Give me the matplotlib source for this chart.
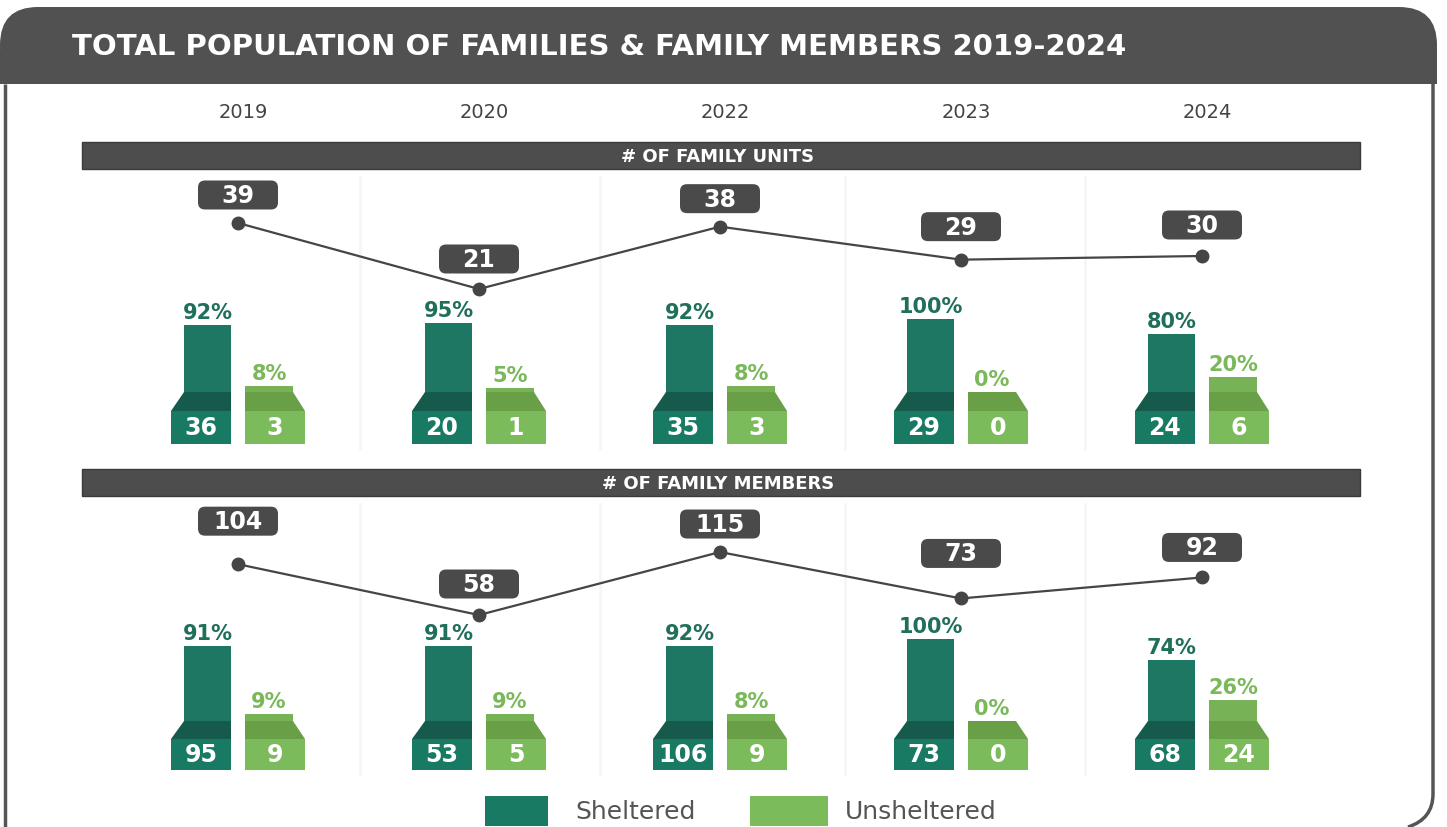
import numpy as np
import matplotlib
matplotlib.use('Agg')
import matplotlib.pyplot as plt
from matplotlib.patches import Rectangle, Polygon, FancyBboxPatch, PathPatch
from matplotlib.path import Path
from matplotlib.transforms import Affine2D, ScaledTranslation

# data
years = ['2019', '2020', '2022', '2023', '2024']

units_total = [39, 21, 38, 29, 30]
units_sheltered = [36, 20, 35, 29, 24]
units_unsheltered = [3, 1, 3, 0, 6]
units_sh_pct = [92, 95, 92, 100, 80]
units_un_pct = [8, 5, 8, 0, 20]

members_total = [104, 58, 115, 73, 92]
members_sheltered = [95, 53, 106, 73, 68]
members_unsheltered = [9, 5, 9, 0, 24]
members_sh_pct = [91, 91, 92, 100, 74]
members_un_pct = [9, 9, 8, 0, 26]

# colours
HEAD = '#515151'
SH_COL, SH_TRAP, SH_BASE = '#1d7763', '#155a4b', '#187a63'
UN_COL, UN_TRAP, UN_BASE = '#77b256', '#689f47', '#7bbb5c'
SH_TXT, UN_TXT = '#1f6f5b', '#7ab85a'

W, H = 1447, 828
fig = plt.figure(figsize=(W / 100, H / 100), dpi=100)

# background / decoration layer in pixel coordinates
ax0 = fig.add_axes([0, 0, 1, 1])
ax0.set_xlim(0, W)
ax0.set_ylim(H, 0)
ax0.axis('off')

ax0.add_patch(FancyBboxPatch((0, 8), 1437, 77, boxstyle='round,pad=0,rounding_size=38',
                             fc=HEAD, ec='none'))
ax0.add_patch(Rectangle((0, 50), 1437, 35, fc=HEAD, ec='none'))
ax0.text(72, 47, 'TOTAL POPULATION OF FAMILIES & FAMILY MEMBERS 2019-2024',
         color='white', fontsize=21, fontweight='bold', va='center', ha='left')

# card border
ax0.plot([5, 5], [85, 828], color='#555555', lw=2.5, solid_capstyle='butt')
border = Path([(1433, 85), (1433, 795), (1433, 820), (1408, 828)],
              [Path.MOVETO, Path.LINETO, Path.CURVE3, Path.CURVE3])
ax0.add_patch(PathPatch(border, fc='none', ec='#555555', lw=2.5))

# section headers
for y0, label in [(143, '# OF FAMILY UNITS'), (470, '# OF FAMILY MEMBERS')]:
    ax0.add_patch(Rectangle((82, y0), 1278, 27, fc='#4d4d4d', ec='#3a3a3a', lw=1))
    ax0.text(718, y0 + 14, label, color='white', fontsize=13, fontweight='bold',
             ha='center', va='center')

# faint separators
for xs in [360, 600, 845, 1085]:
    for ya, yb in [(178, 450), (505, 775)]:
        ax0.plot([xs, xs], [ya, yb], color='#f6f6f6', lw=2)

# legend
ax0.add_patch(Rectangle((485, 797), 63, 30, fc=SH_BASE, ec='none'))
ax0.text(575, 812, 'Sheltered', color='#555555', fontsize=18, va='center')
ax0.add_patch(Rectangle((750, 797), 78, 30, fc=UN_BASE, ec='none'))
ax0.text(845, 812, 'Unsheltered', color='#555555', fontsize=18, va='center')

# category placement: index i -> pixel X0 + STEP * i
X0, STEP = 238, 241
xlim = (-X0 / STEP, (W - X0) / STEP)
idx = np.arange(len(years))


def pix_box(ax, x, y, dy, w=80, h=29):
    # rounded label box of fixed pixel size, anchored on a data point
    tr = Affine2D() + ScaledTranslation(x, y, ax.transData)
    return FancyBboxPatch((-w / 2, dy - h / 2), w, h,
                          boxstyle='round,pad=0,rounding_size=7',
                          fc='#4a4a4a', ec='none', transform=tr, zorder=5)


def panel(totals, sh, un, sh_pct, un_pct, line_a, line_k, bar_z, bar_s,
          trap_h, base_h, box_dy, name):
    # line layer: value v -> pixel-from-top line_a - line_k * v
    axl = fig.add_axes([0, 0, 1, 1], label='line' + name)
    axl.set_xlim(*xlim)
    axl.set_ylim((line_a - H) / line_k, line_a / line_k)
    axl.axis('off')
    axl.patch.set_alpha(0)
    axl.plot(idx, totals, color='#454545', lw=1.6, marker='o', ms=9,
             mfc='#454545', mec='#454545', zorder=3)
    for i, v in enumerate(totals):
        axl.add_patch(pix_box(axl, i, v, box_dy[i]))
        axl.annotate(str(v), (i, v), xytext=(0, box_dy[i]), textcoords='offset pixels',
                     ha='center', va='center', color='white', fontsize=17,
                     fontweight='bold', zorder=6)

    # bar layer: percentage p -> pixel-from-top bar_z - bar_s * p
    axb = fig.add_axes([0, 0, 1, 1], label='bar' + name)
    axb.set_xlim(*xlim)
    axb.set_ylim((bar_z - H) / bar_s, bar_z / bar_s)
    axb.axis('off')
    axb.patch.set_alpha(0)
    u = 1.0 / STEP
    t = trap_h / bar_s
    b = base_h / bar_s
    for i in idx:
        # sheltered: flare on the left
        l_base, r = i - 67 * u, i - 7 * u
        l_col = i - 54 * u
        axb.add_patch(Rectangle((l_col, 0), r - l_col, sh_pct[i], fc=SH_COL, ec='none'))
        axb.add_patch(Polygon([(l_col, 0), (l_base, -t), (r, -t), (r, 0)],
                              closed=True, fc=SH_TRAP, ec='none'))
        axb.add_patch(Rectangle((l_base, -t - b), r - l_base, b, fc=SH_BASE, ec='none'))
        axb.text((l_base + r) / 2, -t - b / 2, str(sh[i]), color='white', fontsize=17,
                 fontweight='bold', ha='center', va='center')
        axb.annotate(f'{sh_pct[i]}%', ((l_col + r) / 2, sh_pct[i]), xytext=(0, 3),
                     textcoords='offset pixels', ha='center', va='bottom',
                     color=SH_TXT, fontsize=15, fontweight='bold')

        # unsheltered: flare on the right
        l, r_col, r_base = i + 7 * u, i + 55 * u, i + 67 * u
        axb.add_patch(Rectangle((l, 0), r_col - l, un_pct[i], fc=UN_COL, ec='none'))
        axb.add_patch(Polygon([(l, 0), (l, -t), (r_base, -t), (r_col, 0)],
                              closed=True, fc=UN_TRAP, ec='none'))
        axb.add_patch(Rectangle((l, -t - b), r_base - l, b, fc=UN_BASE, ec='none'))
        axb.text((l + r_base) / 2, -t - b / 2, str(un[i]), color='white', fontsize=17,
                 fontweight='bold', ha='center', va='center')
        axb.annotate(f'{un_pct[i]}%', ((l + r_col) / 2, un_pct[i]), xytext=(0, 3),
                     textcoords='offset pixels', ha='center', va='bottom',
                     color=UN_TXT, fontsize=15, fontweight='bold')
    return axl


panel(units_total, units_sheltered, units_unsheltered, units_sh_pct, units_un_pct,
      367, 3.667, 393, 0.73, 19, 33, [28, 30, 28, 33, 31], 'u')
panel(members_total, members_sheltered, members_unsheltered, members_sh_pct, members_un_pct,
      680.1, 1.105, 722, 0.82, 18, 31, [43, 31, 28, 45, 30], 'm')

# year labels across the top
for i, y in enumerate(years):
    ax0.text(X0 + STEP * i + 5, 113, y, color='#444444', fontsize=14,
             ha='center', va='center')

fig.savefig('out.png', dpi=100)
